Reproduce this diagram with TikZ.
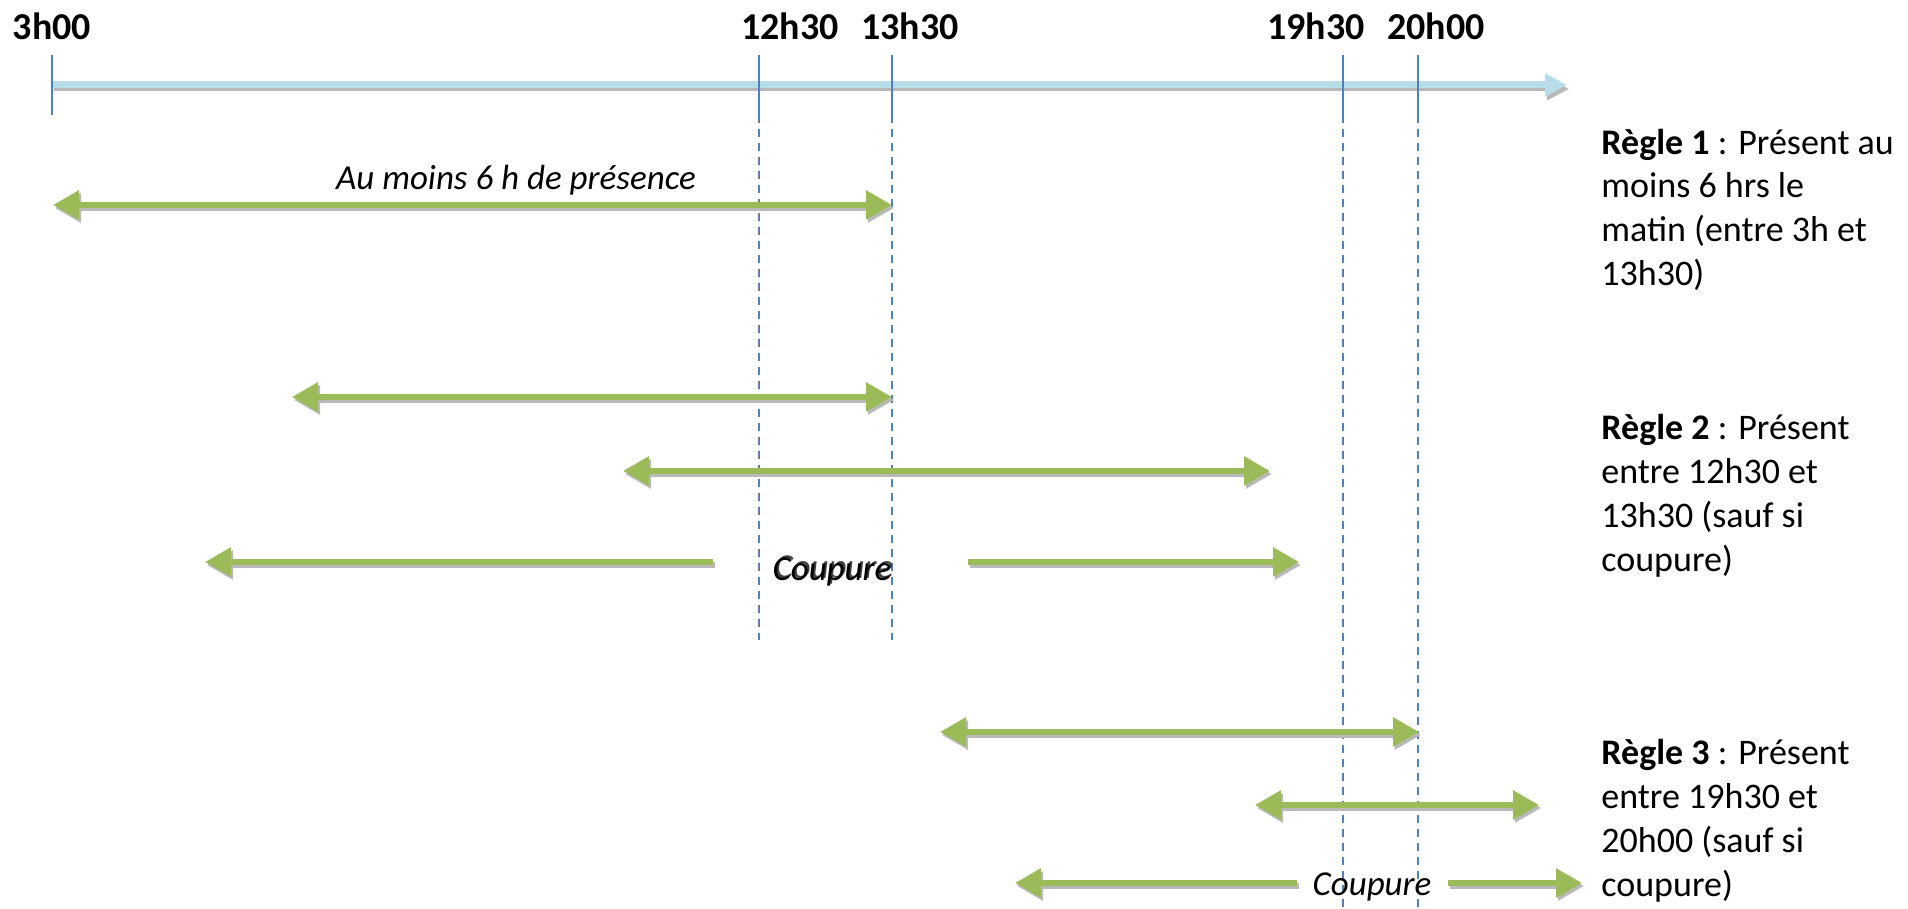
\documentclass[tikz,border=0pt]{standalone}
\usepackage{fontspec}
\setmainfont{Carlito}
\usetikzlibrary{arrows.meta}
\definecolor{axisblue}{HTML}{B7DEE8}
\definecolor{tickblue}{HTML}{4F81BD}
\definecolor{agreen}{HTML}{9BBB59}
\tikzset{
  gbase/.style={line width=3pt},
  both/.style={{Triangle[length=13pt,width=14pt]}-{Triangle[length=13pt,width=14pt]}},
  lefttip/.style={{Triangle[length=13pt,width=14pt]}-},
  righttip/.style={-{Triangle[length=13pt,width=14pt]}},
  garrow/.style={gbase,draw=agreen},
  gshadow/.style={gbase,draw=gray!55,shift={(2,3)}},
  tick/.style={draw=tickblue,line width=1pt},
  dtick/.style={draw=tickblue,line width=1pt,dash pattern=on 4pt off 3pt},
  hour/.style={font=\bfseries\fontsize{19}{22}\selectfont,anchor=base,inner sep=0pt},
  itext/.style={font=\itshape\fontsize{17.5}{19.5}\selectfont,anchor=base,inner sep=0pt},
  rule/.style={font=\fontsize{18}{22}\selectfont,anchor=base west,inner sep=0pt,align=left},
}
\begin{document}
\begin{tikzpicture}[x=0.5pt,y=-0.5pt]
\useasboundingbox (0,0) rectangle (1908,909);
% axis
\draw[line width=2pt,draw=gray!55,-{Triangle[length=11pt,width=11pt]}] (54,89) -- (1569,89);
\draw[line width=3.5pt,draw=axisblue,-{Triangle[length=11pt,width=11pt]}] (52,85) -- (1567,85);
% ticks
\draw[tick] (52,55) -- (52,115);
\draw[tick] (759,55) -- (759,115);
\draw[dtick] (759,115) -- (759,640);
\draw[tick] (892,55) -- (892,115);
\draw[dtick] (892,115) -- (892,640);
\draw[tick] (1343,55) -- (1343,115);
\draw[dtick] (1343,115) -- (1343,909);
\draw[tick] (1418,55) -- (1418,115);
\draw[dtick] (1418,115) -- (1418,909);
% hour labels
\node[hour] (h3) at (52,40) {3h00};
\node[hour] (h1230) at (790,40) {12h30};
\node[hour] (h1330) at (910,40) {13h30};
\node[hour] (h1930) at (1316,40) {19h30};
\node[hour] (h2000) at (1436,40) {20h00};
% arrows: shadows then green
\foreach \a/\b/\y in {53/892/205, 292/892/397, 623/1270/471, 940/1419/732, 1255/1539/805}{
  \draw[gshadow,both] (\a,\y) -- (\b,\y);
  \draw[garrow,both] (\a,\y) -- (\b,\y);
}
\foreach \a/\b/\y in {205/713/562, 1015/1297/883}{
  \draw[gshadow,lefttip] (\a,\y) -- (\b,\y);
  \draw[garrow,lefttip] (\a,\y) -- (\b,\y);
}
\foreach \a/\b/\y in {968/1299/562, 1448/1582/883}{
  \draw[gshadow,righttip] (\a,\y) -- (\b,\y);
  \draw[garrow,righttip] (\a,\y) -- (\b,\y);
}
% texts
\node[itext] (pres) at (516,190) {Au moins 6 h de présence};
\node[itext,text=black!75] (coup1s) at (834,578) {Coupure};
\node[itext] (coup1) at (832,580) {Coupure};
\node[itext] (coup2) at (1372,895) {Coupure};
\node[rule] (r1) at (1601,286) {\textbf{Règle 1} : Présent au\\moins 6 hrs le\\matin (entre 3h et\\13h30)};
\node[rule] (r2) at (1601,571) {\textbf{Règle 2} : Présent\\entre 12h30 et\\13h30 (sauf si\\coupure)};
\node[rule] (r3) at (1601,896) {\textbf{Règle 3} : Présent\\entre 19h30 et\\20h00 (sauf si\\coupure)};
\end{tikzpicture}
\end{document}
